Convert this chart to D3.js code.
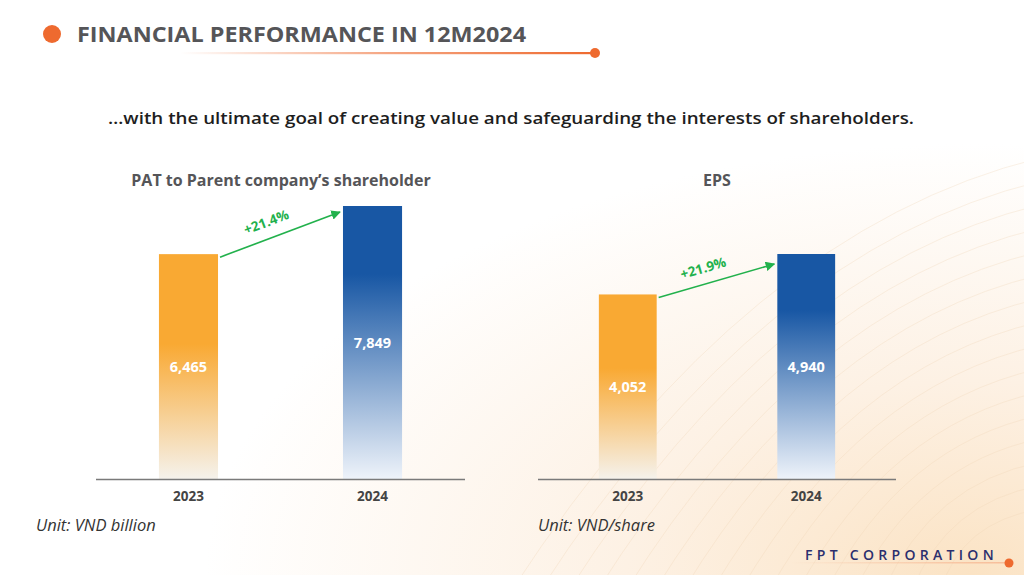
<!DOCTYPE html>
<html><head><meta charset="utf-8">
<script src="https://cdn.jsdelivr.net/npm/d3@7"></script>
<style>
html,body{margin:0;padding:0;background:#fff;}
svg{display:block;}
</style></head>
<body>
<svg id="c" width="1024" height="575"></svg>
<script>
// ---- data ----
const years = ["2023", "2024"];
const patValues = [6465, 7849];
const epsValues = [4052, 4940];
const patGrowth = "+21.4%";
const epsGrowth = "+21.9%";
const patTitle = "PAT to Parent company\u2019s shareholder";
const epsTitle = "EPS";
const patUnit = "Unit: VND billion";
const epsUnit = "Unit: VND/share";
const mainTitle = "FINANCIAL PERFORMANCE IN 12M2024";
const subTitle = "\u2026with the ultimate goal of creating value and safeguarding the interests of shareholders.";
const brand = "FPT CORPORATION";

const svg = d3.select("#c");
const defs = svg.append("defs");

// background warm glow bottom-right
const bg = defs.append("radialGradient").attr("id","bg").attr("cx","0.95").attr("cy","1.0").attr("r","0.75");
bg.append("stop").attr("offset","0").attr("stop-color","#fbe3c4");
bg.append("stop").attr("offset","0.45").attr("stop-color","#fdf1e4");
bg.append("stop").attr("offset","1").attr("stop-color","#ffffff");
svg.append("rect").attr("width",1024).attr("height",575).attr("fill","url(#bg)");

// faint contour lines (decorative)
const lines = svg.append("g").attr("fill","none").attr("stroke","#f1d6b6").attr("stroke-width",0.7).attr("opacity",0.45);
for (let i = 0; i < 16; i++) {
  const r = 90 + i * 26;
  lines.append("path").attr("d", `M ${1040 - r*1.1} 590 Q ${1010 - r*0.55} ${590 - r*0.75} ${1040} ${590 - r*0.9}`);
}

// gradients
function barGrad(id, c, end, s) {
  const g = defs.append("linearGradient").attr("id", id).attr("x1",0).attr("y1",0).attr("x2",0).attr("y2",1);
  g.append("stop").attr("offset","0").attr("stop-color",c);
  g.append("stop").attr("offset",s).attr("stop-color",c);
  g.append("stop").attr("offset","1").attr("stop-color",end);
}
barGrad("gOrange", "#f9a933", "#f5f2ec", "0.4");
barGrad("gBlue", "#1857a4", "#eef3fa", "0.25");

const ul = defs.append("linearGradient").attr("id","ul").attr("x1",0).attr("x2",1).attr("y1",0).attr("y2",0);
ul.append("stop").attr("offset","0").attr("stop-color","#ee6a2f").attr("stop-opacity",0);
ul.append("stop").attr("offset","0.5").attr("stop-color","#ee6a2f").attr("stop-opacity",0.6);
ul.append("stop").attr("offset","1").attr("stop-color","#ee6a2f");

const bl = defs.append("linearGradient").attr("id","bl").attr("x1",0).attr("x2",1).attr("y1",0).attr("y2",0);
bl.append("stop").attr("offset","0").attr("stop-color","#f6b48f").attr("stop-opacity",0);
bl.append("stop").attr("offset","1").attr("stop-color","#f6b48f").attr("stop-opacity",0.8);

defs.append("marker").attr("id","arr").attr("viewBox","0 0 10 10").attr("refX",9).attr("refY",5)
  .attr("markerWidth",6).attr("markerHeight",6).attr("orient","auto")
  .append("path").attr("d","M0,0 L10,5 L0,10 z").attr("fill","#22b14c");

// header
svg.append("circle").attr("cx",52).attr("cy",34).attr("r",9).attr("fill","#ee6a2f");
svg.append("text").attr("x",77).attr("y",42).text(mainTitle)
  .attr("font-family","'Open Sans', sans-serif").attr("font-weight",700).attr("font-size",21)
  .attr("fill","#555558").attr("textLength",449).attr("lengthAdjust","spacingAndGlyphs");
svg.append("rect").attr("x",180).attr("y",52).attr("width",414).attr("height",2.2).attr("fill","url(#ul)");
svg.append("circle").attr("cx",595).attr("cy",53).attr("r",5).attr("fill","#ee6a2f");

svg.append("text").attr("x",511).attr("y",124).attr("text-anchor","middle").text(subTitle)
  .attr("font-family","'Open Sans', sans-serif").attr("font-weight",600).attr("font-size",17)
  .attr("fill","#1e1e1e").attr("textLength",806).attr("lengthAdjust","spacingAndGlyphs");

// charts
function chart(cfg) {
  const g = svg.append("g");
  const x = d3.scaleBand().domain(years).range([cfg.x0, cfg.x1]).paddingInner(cfg.pi).paddingOuter(cfg.po);
  const y = d3.scaleLinear().domain([0, d3.max(cfg.values)]).range([479, cfg.top]);
  const data = years.map((yr, i) => ({yr, v: cfg.values[i]}));

  g.append("text").attr("x",cfg.tx).attr("y",186).attr("text-anchor","middle").text(cfg.title)
    .attr("font-family","'Open Sans', sans-serif").attr("font-weight",700).attr("font-size",16).attr("fill","#555558");

  g.selectAll("rect.bar").data(data).join("rect").attr("class","bar")
    .attr("x", d => x(d.yr)).attr("width", x.bandwidth())
    .attr("y", d => y(d.v)).attr("height", d => y(0) - y(d.v))
    .attr("fill", (d,i) => i === 0 ? "url(#gOrange)" : "url(#gBlue)");

  g.selectAll("text.val").data(data).join("text").attr("class","val")
    .attr("x", d => x(d.yr) + x.bandwidth()/2).attr("y", d => (y(d.v)+y(0))/2 + 5)
    .attr("text-anchor","middle").text(d => d3.format(",")(d.v))
    .attr("font-family","'Open Sans', sans-serif").attr("font-weight",700).attr("font-size",14.5).attr("fill","#fff");

  const axis = d3.axisBottom(x).tickSize(0).tickPadding(10);
  const ag = g.append("g").attr("transform","translate(0,479)").call(axis);
  ag.select(".domain").attr("d", `M${cfg.x0},0.5H${cfg.x1}`).attr("stroke","#7a7a7a").attr("stroke-width",1.6);
  ag.selectAll("text").attr("font-family","'Open Sans', sans-serif").attr("font-weight",700).attr("font-size",13.5).attr("fill","#444").attr("dy","0.9em");

  // arrow
  const a = data[0], b = data[1];
  const x1 = x(a.yr) + x.bandwidth() + 2, y1 = y(a.v) + 3;
  const x2 = x(b.yr) - 3, y2 = y(b.v) + 6 + cfg.ady;
  g.append("line").attr("x1",x1).attr("y1",y1).attr("x2",x2).attr("y2",y2)
    .attr("stroke","#22b14c").attr("stroke-width",1.6).attr("marker-end","url(#arr)");
  const ang = Math.atan2(y2-y1, x2-x1) * 180 / Math.PI;
  const mx = (x1+x2)/2 - 12, my = (y1+y2)/2 - 8;
  g.append("text").attr("transform",`translate(${mx},${my}) rotate(${ang})`).attr("text-anchor","middle")
    .text(cfg.growth).attr("font-family","'Open Sans', sans-serif").attr("font-weight",700).attr("font-size",13.5).attr("fill","#22b14c");

  g.append("text").attr("x",cfg.ux).attr("y",531).text(cfg.unit)
    .attr("font-family","'Open Sans', sans-serif").attr("font-style","italic").attr("font-size",16.5).attr("fill","#333");
}

chart({x0:96, x1:465, pi:0.679, po:0.342, top:206, values:patValues, title:patTitle, growth:patGrowth, unit:patUnit,
  ux:36, tx:281, ady:0});
chart({x0:538, x1:896, pi:0.676, po:0.341, top:254, values:epsValues, title:epsTitle, growth:epsGrowth, unit:epsUnit,
  ux:538, tx:717, ady:4});

// brand
svg.append("rect").attr("x",790).attr("y",562).attr("width",215).attr("height",1.5).attr("fill","url(#bl)");
svg.append("text").attr("x",805).attr("y",560).text(brand)
  .attr("font-family","'Open Sans', sans-serif").attr("font-weight",600).attr("font-size",14)
  .attr("fill","#2b2f6e").attr("letter-spacing","4.3px");
svg.append("circle").attr("cx",1009).attr("cy",563).attr("r",4.5).attr("fill","#ee6a2f");
</script>
</body></html>
